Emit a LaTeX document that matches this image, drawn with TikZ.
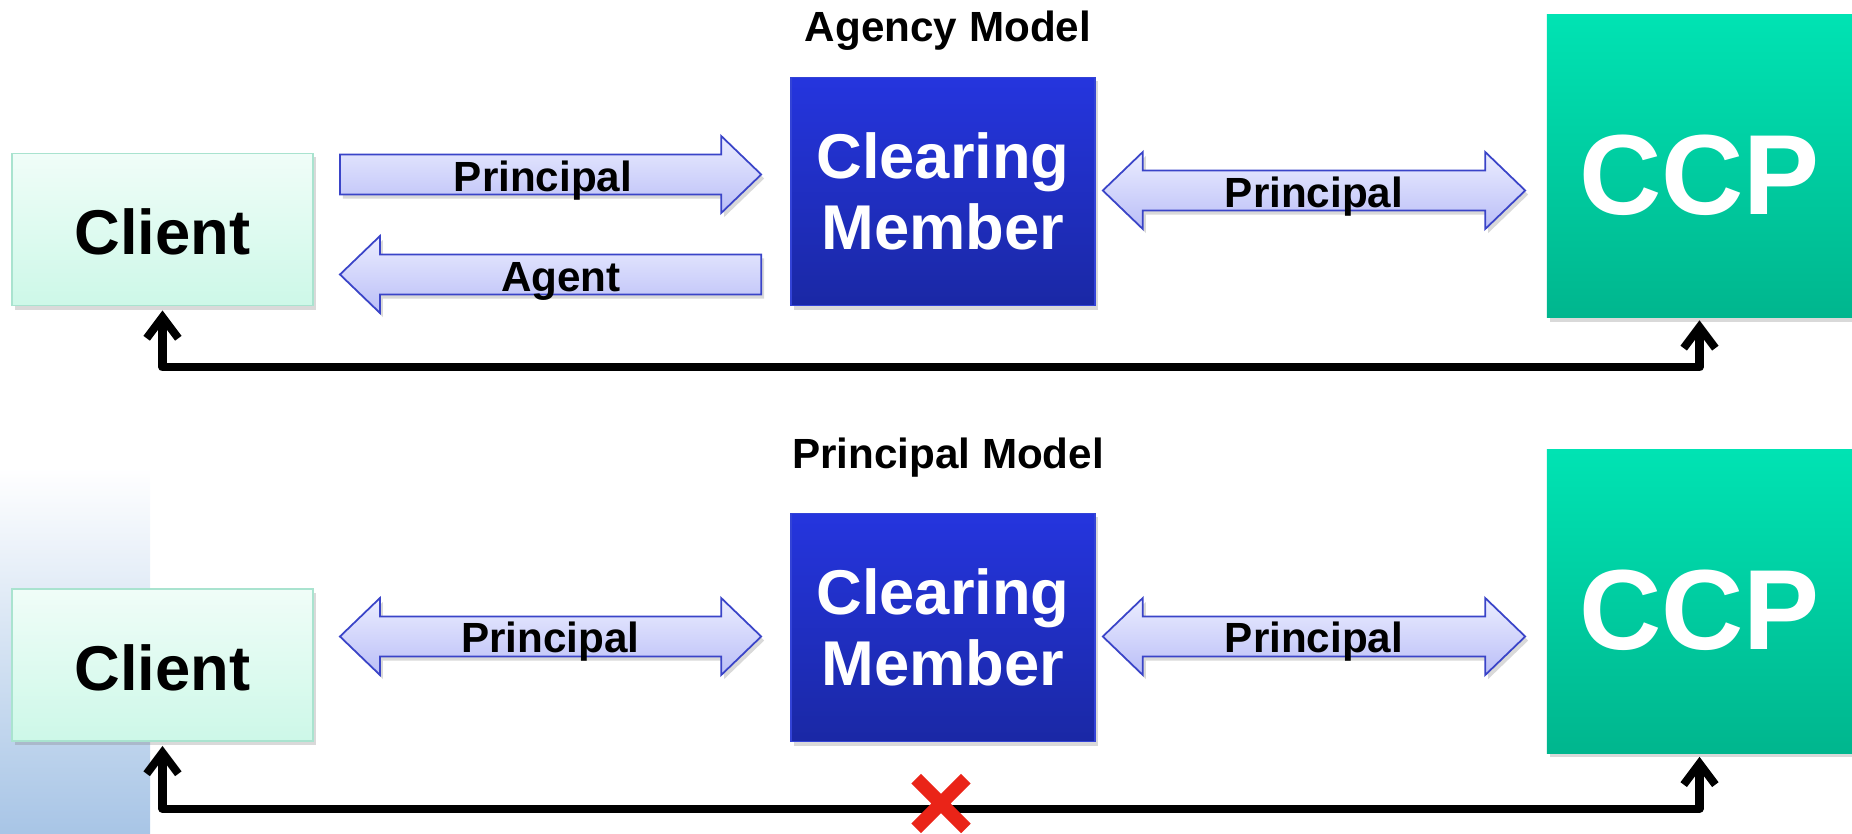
\documentclass[tikz,border=0pt]{standalone}
\usepackage{fontspec}
\setmainfont{Liberation Sans}
\usetikzlibrary{calc,arrows.meta,shadows,shapes.misc}

\definecolor{clienttop}{HTML}{F0FDF8}
\definecolor{clientbot}{HTML}{CDF8E8}
\definecolor{clientline}{HTML}{A9E3CF}
\definecolor{membertop}{HTML}{2535DE}
\definecolor{memberbot}{HTML}{1A28A5}
\definecolor{memberline}{HTML}{3343D6}
\definecolor{ccptop}{HTML}{00E3B3}
\definecolor{ccpbot}{HTML}{00B68E}
\definecolor{artop}{HTML}{EBEDFF}
\definecolor{arbot}{HTML}{BABEF7}
\definecolor{arline}{HTML}{3A44C8}
\definecolor{bgblue}{HTML}{A8C5E6}
\definecolor{xred}{HTML}{EA2418}

\begin{document}
\begin{tikzpicture}[x=0.01cm,y=0.01cm]
\tikzset{
    shade box/.style={drop shadow={shadow xshift=0.03cm, shadow yshift=-0.04cm, opacity=.3}},
    client/.style={shade box, rectangle, top color=clienttop, bottom color=clientbot, draw=clientline,
        line width=0.5pt, minimum width=3.01cm, minimum height=1.52cm, inner sep=0pt,
        text height=0.5cm, text depth=0pt,
        font=\bfseries\fontsize{18}{20.2}\selectfont},
    member/.style={shade box, rectangle, top color=membertop, bottom color=memberbot, draw=memberline,
        line width=0.4pt, minimum width=3.04cm, minimum height=2.28cm, inner sep=0pt, align=center,
        text=white, font=\bfseries\fontsize{18}{20.2}\selectfont},
    ccp/.style={shade box, rectangle, top color=ccptop, bottom color=ccpbot,
        minimum width=3.05cm, minimum height=3.03cm, inner sep=0pt,
        text height=0.96cm, text depth=0pt,
        text=white, font=\bfseries\fontsize{32.4}{34}\selectfont},
    heading/.style={font=\bfseries\fontsize{12}{14}\selectfont},
    tag/.style={anchor=base, font=\bfseries\fontsize{12}{14}\selectfont},
    barrow/.style={shade box, top color=artop, bottom color=arbot, draw=arline, line width=0.5pt},
    link/.style={line width=2.3pt, line cap=round, line join=round,
        {Straight Barb[length=6pt,width=9pt]}-{Straight Barb[length=6pt,width=9pt]}},
    nox/.style={cross out, draw=xred, line width=3.9pt, minimum size=0.36cm, inner sep=0pt}}
\def\arsw{0.2cm}
\def\arhw{0.385cm}
\def\arhl{0.4cm}

% block arrows: tail, tip
\def\barR#1#2{\draw[barrow] let \p1=(#1), \p2=(#2) in
    (\x1,{\y1-\arsw}) -- ({\x2-\arhl},{\y1-\arsw}) -- ({\x2-\arhl},{\y1-\arhw}) -- (\x2,\y1)
    -- ({\x2-\arhl},{\y1+\arhw}) -- ({\x2-\arhl},{\y1+\arsw}) -- (\x1,{\y1+\arsw}) -- cycle;}
\def\barL#1#2{\draw[barrow] let \p1=(#1), \p2=(#2) in
    (\x1,{\y1-\arsw}) -- ({\x2+\arhl},{\y1-\arsw}) -- ({\x2+\arhl},{\y1-\arhw}) -- (\x2,\y1)
    -- ({\x2+\arhl},{\y1+\arhw}) -- ({\x2+\arhl},{\y1+\arsw}) -- (\x1,{\y1+\arsw}) -- cycle;}
\def\barD#1#2{\draw[barrow] let \p1=(#1), \p2=(#2) in
    (\x1,\y1) -- ({\x1+\arhl},{\y1+\arhw}) -- ({\x1+\arhl},{\y1+\arsw}) -- ({\x2-\arhl},{\y1+\arsw})
    -- ({\x2-\arhl},{\y1+\arhw}) -- (\x2,\y1) -- ({\x2-\arhl},{\y1-\arhw}) -- ({\x2-\arhl},{\y1-\arsw})
    -- ({\x1+\arhl},{\y1-\arsw}) -- ({\x1+\arhl},{\y1-\arhw}) -- cycle;}

\useasboundingbox (0,0) rectangle (1852,833);

\shade[top color=white, bottom color=bgblue] (0,0) rectangle (150,366);

% agency model
\node[heading] (t1) at (948,802) {Agency Model};
\node[client] (cl1) at (162.5,603.5) {Client};
\node[member] (cm1) at (943,641.5) {Clearing\\Member};
\node[ccp] (ccp1) at (1699.5,667) {CCP};

\barR{$(cl1.east)+(26,55)$}{$(cm1.west)+(-29,17)$}
\barL{$(cm1.west)+(-29,-83)$}{$(cl1.east)+(26,-45)$}
\barD{$(cm1.east)+(7,1)$}{$(ccp1.west)+(-21,-24.5)$}
\node[tag] (l1) at (543,641) {Principal};
\node[tag] (l2) at (561,541) {Agent};
\node[tag] (l3) at (1314,625) {Principal};

\draw[link, shorten <=0.04cm, shorten >=0.02cm] (cl1.south) -- ++(0,-61) -| (ccp1.south);

% principal model
\node[heading] (t2) at (948,375) {Principal Model};
\node[client] (cl2) at (162.5,168) {Client};
\node[member] (cm2) at (943,205.5) {Clearing\\Member};
\node[ccp] (ccp2) at (1699.5,231.5) {CCP};

\barD{$(cl2.east)+(26,28.5)$}{$(cm2.west)+(-29,-9)$}
\barD{$(cm2.east)+(7,-9)$}{$(ccp2.west)+(-21,-35)$}
\node[tag] (l4) at (550.5,180.5) {Principal};
\node[tag] (l5) at (1314,180.5) {Principal};

\draw[link, shorten <=0.04cm, shorten >=0.03cm] (cl2.south) -- ++(0,-67) -| (ccp2.south);
\node[nox] (x2) at (941,29.5) {};

\end{tikzpicture}
\end{document}
